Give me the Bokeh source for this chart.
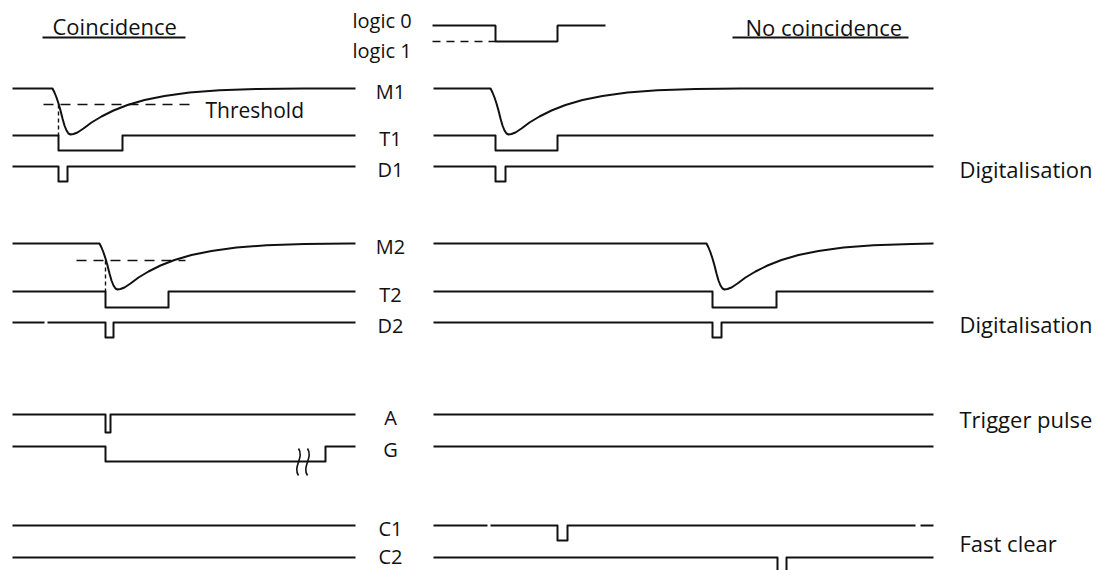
import numpy as np
from bokeh.plotting import figure
from bokeh.models import Range1d
from bokeh.core.properties import value
from bokeh.embed import file_html
from bokeh.resources import INLINE

FONT = "Open Sans"

# ---- time extents of the two panels (time runs left -> right) ----
left_span = [12, 355]
right_span = [433, 933]

# ---- analogue pulse shape: time offset, depth ----
pulse_dt = [0, 2, 4, 6, 8, 10, 12, 14, 16, 18, 21, 25, 31, 39, 49, 61, 75, 92, 112, 137, 167, 205, 250]
pulse_depth = [0, 4, 9, 15, 22, 30, 37, 42, 45, 46, 45.5, 44, 40, 34, 28, 22, 16.5, 11.5, 7.5, 4, 1.8, 0.5, 0]

# ---- trace names, baselines (vertical position) and logic-1 levels ----
trace_names = ["M1", "T1", "D1", "M2", "T2", "D2", "A", "G", "C1", "C2"]
trace_base = [88, 135, 166, 243, 291, 322, 414, 446, 525, 557]
trace_low = [None, 150, 181, None, 307, 337, 432, 461, 540, 574]

# ---- analogue pulse start times ----
m1_start = [52, 490]
m2_start = [99, 706]

# ---- logic pulses (start, end) per panel ----
t1_left, t1_right = [(58, 122)], [(495, 557)]
d1_left, d1_right = [(58, 67)], [(495, 505)]
t2_left, t2_right = [(105, 168)], [(712, 776)]
d2_left, d2_right = [(105, 113)], [(712, 721)]
a_left, a_right = [(105, 110)], []
g_left, g_right = [(105, 325)], []
c1_left, c1_right = [], [(557, 567)]
c2_left, c2_right = [], [(777, 786)]
d2_left_gaps = [(44, 47)]
c1_right_gaps = [(487, 490), (915, 920)]
g_break_x = [298, 307]

# ---- thresholds: (level, from, to, crossing time, T-line level) ----
thr1 = (104, 43, 195, 58, 135)
thr2 = (260, 76, 185, 105, 291)

# ---- legend "logic 0 / logic 1" ----
legend_x = [432, 495, 557, 605]
legend_hi, legend_lo = 25, 41

# ---- texts ----
titles = ["Coincidence", "No coincidence"]
right_notes = ["Digitalisation", "Digitalisation", "Trigger pulse", "Fast clear"]
right_note_y = [168, 323, 418, 542]

W, H = 1107, 570
p = figure(width=W, height=H, output_backend="svg", toolbar_location=None,
           x_axis_type=None, y_axis_type=None,
           x_range=Range1d(0, W), y_range=Range1d(H, 0),
           min_border=0, min_border_left=0, min_border_right=0,
           min_border_top=0, min_border_bottom=0)
p.grid.visible = False
p.outline_line_color = None
p.background_fill_color = "white"
p.border_fill_color = "white"

LW = 2
COL = "#111111"


def analog(span, start, base):
    xs, ys = [span[0]], [base]
    for d, v in zip(pulse_dt, pulse_depth):
        if start + d < span[1]:
            xs.append(start + d)
            ys.append(base + v)
    xs.append(span[1])
    ys.append(base)
    return xs, ys


def logic(span, hi, lo, pulses, gaps=()):
    xs, ys = [span[0]], [hi]
    marks = sorted([(a, 0, b) for a, b in pulses] + [(a, 1, b) for a, b in gaps])
    for a, k, b in marks:
        if k == 0:
            xs += [a, a, b, b]
            ys += [hi, lo, lo, hi]
        else:
            xs += [a, np.nan, b]
            ys += [hi, np.nan, hi]
    xs.append(span[1])
    ys.append(hi)
    return xs, ys


def draw(xs, ys):
    p.line(xs, ys, line_width=LW, line_color=COL, line_join="round")


# analogue traces
for s, span in zip(m1_start, [left_span, right_span]):
    draw(*analog(span, s, trace_base[0]))
for s, span in zip(m2_start, [left_span, right_span]):
    draw(*analog(span, s, trace_base[3]))

# logic traces
pairs = {
    1: (t1_left, t1_right, [], []),
    2: (d1_left, d1_right, [], []),
    4: (t2_left, t2_right, [], []),
    5: (d2_left, d2_right, d2_left_gaps, []),
    6: (a_left, a_right, [], []),
    7: (g_left, g_right, [], []),
    8: (c1_left, c1_right, [], c1_right_gaps),
    9: (c2_left, c2_right, [], []),
}
for i, (pl, pr, gl, gr) in pairs.items():
    draw(*logic(left_span, trace_base[i], trace_low[i], pl, gl))
    draw(*logic(right_span, trace_base[i], trace_low[i], pr, gr))

# break symbol on G
for bx in g_break_x:
    p.bezier(x0=bx, y0=448, x1=bx, y1=475, cx0=bx + 6, cy0=457, cx1=bx - 6, cy1=466,
             line_width=1.6, line_color=COL)

# thresholds
for lvl, xa, xb, xc, tl in [thr1, thr2]:
    p.line([xa, xb], [lvl, lvl], line_width=1.6, line_color=COL, line_dash="10 7")
    p.line([xc, xc], [lvl, tl], line_width=1.4, line_color=COL, line_dash="4 3")
p.text(x=[205], y=[109], text=["Threshold"], text_font=value(FONT), text_font_size="21px",
       text_baseline="middle", text_align="left", text_color=COL)

# legend logic levels
p.line([legend_x[0], legend_x[1], legend_x[1], legend_x[2], legend_x[2], legend_x[3]],
       [legend_hi, legend_hi, legend_lo, legend_lo, legend_hi, legend_hi],
       line_width=LW, line_color=COL)
p.line([legend_x[0], legend_x[1]], [legend_lo, legend_lo], line_width=1.4, line_color=COL, line_dash="8 6")
p.text(x=[352, 352], y=[20, 50], text=["logic 0", "logic 1"], text_font=value(FONT),
       text_font_size="20px", text_baseline="middle", text_align="left", text_color=COL)

# trace labels
label_y = [min(b + 3, H - 14) for b in trace_base]
p.text(x=[390] * len(trace_names), y=label_y, text=trace_names, text_font=value(FONT),
       text_font_size="20px", text_baseline="middle", text_align="center", text_color=COL)

# titles
p.text(x=[52, 745], y=[25, 26], text=titles, text_font=value(FONT), text_font_size="22px",
       text_baseline="middle", text_align="left", text_color=COL)
p.segment(x0=[42, 732], y0=[37, 37], x1=[185, 908], y1=[37, 37], line_width=LW, line_color=COL)

# right notes
p.text(x=[959] * len(right_notes), y=right_note_y, text=right_notes, text_font=value(FONT),
       text_font_size="22px", text_baseline="middle", text_align="left", text_color=COL)

open("out.html", "w").write(file_html(p, INLINE))
